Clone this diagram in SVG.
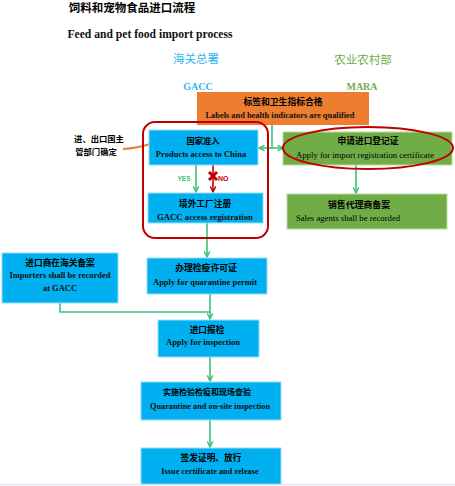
<svg xmlns="http://www.w3.org/2000/svg" width="455" height="486" viewBox="0 0 455 486">
<defs>
<style>
.t{font-family:"Liberation Serif","Noto Sans CJK SC",serif;text-anchor:middle;fill:#000}
.cn{font-family:"Noto Sans CJK SC","Liberation Serif",sans-serif;text-anchor:middle;font-weight:bold;fill:#000}
.en{font-family:"Liberation Serif",serif;text-anchor:middle;font-weight:bold;fill:#111}
.blue{fill:#00b0f0;stroke:#9adcf7;stroke-width:1}
.green{fill:#70ad47;stroke:#b9dca0;stroke-width:1}
.con{fill:none;stroke:#3cc07a;stroke-width:1.6}
</style>
<marker id="ah" viewBox="0 0 10 10" refX="9" refY="5" markerWidth="7" markerHeight="7" orient="auto-start-reverse" markerUnits="userSpaceOnUse">
<path d="M1,1 L9,5 L1,9" fill="none" stroke="#3cc07a" stroke-width="2"/>
</marker>
<marker id="ahr" viewBox="0 0 10 10" refX="9" refY="5" markerWidth="7" markerHeight="7" orient="auto" markerUnits="userSpaceOnUse">
<path d="M1,1 L9,5 L1,9" fill="none" stroke="#c00000" stroke-width="2"/>
</marker>
<marker id="aho" viewBox="0 0 10 10" refX="8" refY="5" markerWidth="9" markerHeight="9" orient="auto" markerUnits="userSpaceOnUse">
<path d="M1,1 L9,5 L1,9" fill="none" stroke="#ed7d31" stroke-width="2"/>
</marker>
</defs>
<rect width="455" height="486" fill="#fff"/>
<line x1="0" y1="484.5" x2="455" y2="484.5" stroke="#e2e4ea" stroke-width="1.5"/>

<g id="titles">
<text class="cn" x="132" y="12" font-size="11.5">饲料和宠物食品进口流程</text>
<text class="en" x="150" y="38" font-size="11.6" fill="#111">Feed and pet food import process</text>
<text x="196" y="63" font-size="11.5" fill="#2eb6ee" text-anchor="middle" font-family="Noto Sans CJK SC, sans-serif">海关总署</text>
<text x="363" y="64" font-size="11.5" fill="#70ad47" text-anchor="middle" font-family="Noto Sans CJK SC, sans-serif">农业农村部</text>
<text x="198" y="90" font-size="10" fill="#2eb6ee" text-anchor="middle" font-weight="bold" font-family="Liberation Serif, serif">GACC</text>
<text x="362" y="90" font-size="10" fill="#70ad47" text-anchor="middle" font-weight="bold" font-family="Liberation Serif, serif">MARA</text>
</g>

<g id="connectors">
<line class="con" x1="272" y1="125" x2="272" y2="148"/>
<line class="con" x1="259" y1="148" x2="283" y2="148" marker-start="url(#ah)" marker-end="url(#ah)"/>
<line class="con" x1="196" y1="165" x2="196" y2="192" marker-end="url(#ah)"/>
<line x1="213" y1="165" x2="213" y2="192" stroke="#c00000" stroke-width="1.6" marker-end="url(#ahr)"/>
<path d="M209,172 L217,180 M217,172 L209,180" stroke="#c00000" stroke-width="3"/>
<text x="218" y="181" font-size="7" font-weight="bold" fill="#c00000" font-family="Liberation Sans, sans-serif">NO</text>
<text x="184" y="181" font-size="6.5" font-weight="bold" fill="#3cc07a" text-anchor="middle" font-family="Liberation Sans, sans-serif">YES</text>
<line class="con" x1="356" y1="165" x2="356" y2="193" marker-end="url(#ah)"/>
<line class="con" x1="207" y1="223" x2="207" y2="257" marker-end="url(#ah)"/>
<polyline class="con" points="60,303 60,312 210,312"/>
<line class="con" x1="210" y1="294" x2="210" y2="319" marker-end="url(#ah)"/>
<line class="con" x1="210" y1="357" x2="210" y2="381" marker-end="url(#ah)"/>
<line class="con" x1="210" y1="420" x2="210" y2="447" marker-end="url(#ah)"/>
<path d="M123,149 C150,148 158,138 181,138" fill="none" stroke="#ed7d31" stroke-width="2" marker-end="url(#aho)"/>
</g>

<g id="note">
<text class="cn" x="99" y="142" font-size="8.3" font-weight="normal">进、出口国主</text>
<text class="cn" x="96" y="155" font-size="8.3" font-weight="normal" text-anchor="middle">管部门确定</text>
</g>

<g id="labels-node">
<rect x="197" y="92" width="172" height="33" fill="#ed7d31"/>
<text class="cn" x="283" y="105" font-size="8.8" font-weight="normal" fill="#fff">标签和卫生指标合格</text>
<text class="en" x="280" y="118" font-size="8.4">Labels and health indicators are qualified</text>
</g>

<g id="access-node">
<rect class="blue" x="149" y="130" width="109" height="35"/>
<text class="cn" x="203" y="144" font-size="8.3">国家准入</text>
<text class="en" x="201" y="157" font-size="8.5">Products access to China</text>
</g>

<g id="registration-node">
<rect class="blue" x="148" y="193" width="115" height="30"/>
<text class="cn" x="205" y="207" font-size="8.7">境外工厂注册</text>
<text class="en" x="205" y="220" font-size="8.7">GACC access registration</text>
</g>

<rect id="gacc-frame" x="143" y="122" width="125" height="116" rx="12" fill="none" stroke="#c00000" stroke-width="2"/>

<g id="import-cert-node">
<rect class="green" x="283" y="132" width="169" height="33"/>
<text class="cn" x="368" y="144" font-size="8.7">申请进口登记证</text>
<text class="t" x="365" y="158" font-size="8.7" fill="#2a2a2a">Apply for import registration certificate</text>
<ellipse cx="368" cy="148" rx="85" ry="21" fill="none" stroke="#c00000" stroke-width="2"/>
</g>

<g id="sales-node">
<rect class="green" x="287" y="194" width="160" height="35"/>
<text class="cn" x="359" y="208" font-size="8.9">销售代理商备案</text>
<text class="t" x="348" y="221" font-size="8.7" fill="#333">Sales agents shall be recorded</text>
</g>

<g id="importer-node">
<rect class="blue" x="2" y="253" width="116" height="50"/>
<text class="cn" x="60" y="266" font-size="8.7">进口商在海关备案</text>
<text class="en" x="60" y="278" font-size="8.5">Importers shall be recorded</text>
<text class="en" x="60" y="291" font-size="8.5">at GACC</text>
</g>

<g id="permit-node">
<rect class="blue" x="147" y="258" width="120" height="36"/>
<text class="cn" x="206" y="271" font-size="8.8">办理检疫许可证</text>
<text class="en" x="205" y="285" font-size="8.5" fill="#3b4a5a">Apply for quarantine permit</text>
</g>

<g id="inspection-node">
<rect class="blue" x="158" y="320" width="101" height="37"/>
<text class="cn" x="207" y="333" font-size="8.7">进口报检</text>
<text class="en" x="203" y="345" font-size="8.5">Apply for inspection</text>
</g>

<g id="quarantine-node">
<rect class="blue" x="141" y="382" width="140" height="38"/>
<text class="cn" x="207" y="395" font-size="8">实施检验检疫和现场查验</text>
<text class="en" x="210" y="409" font-size="8.3">Quarantine and on-site inspection</text>
</g>

<g id="release-node">
<rect class="blue" x="141" y="448" width="140" height="36"/>
<text class="cn" x="211" y="461" font-size="8.7">签发证明、放行</text>
<text class="en" x="210" y="474" font-size="8.3">Issue certificate and release</text>
</g>
</svg>
